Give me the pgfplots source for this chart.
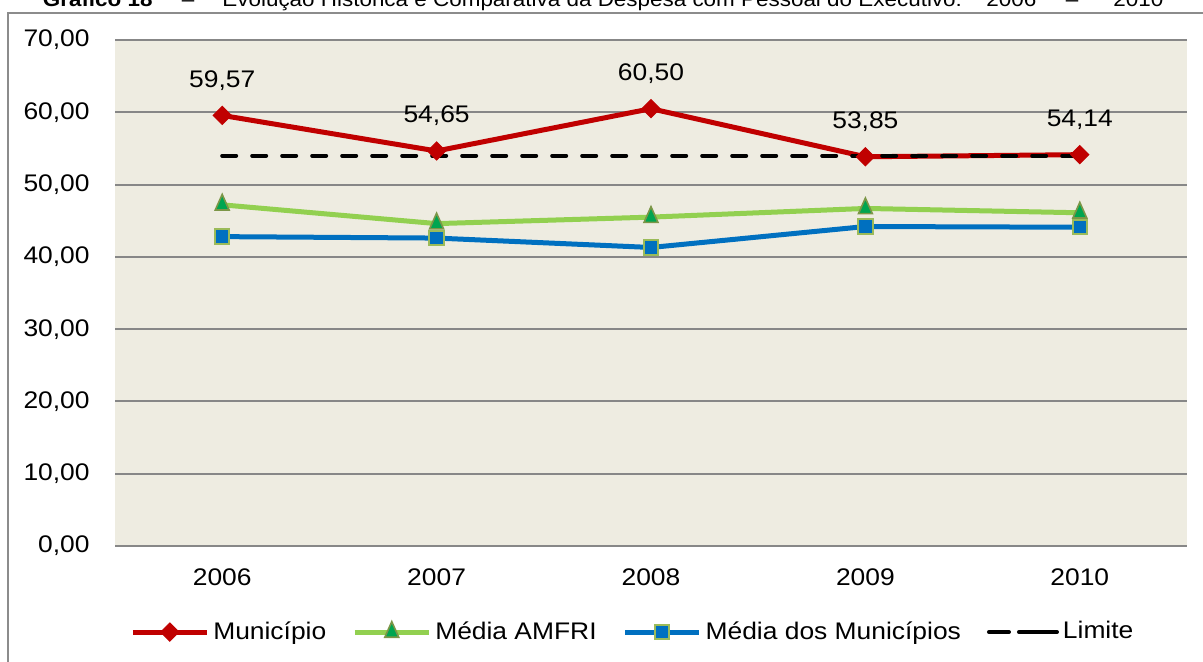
\documentclass[border=0pt]{standalone}
\usepackage{fontspec}
\setmainfont[FakeStretch=1.1]{Liberation Sans}
\usepackage{pgfplots}
\pgfplotsset{compat=1.18}
\definecolor{cred}{HTML}{C00000}
\definecolor{cgreen}{HTML}{92D050}
\definecolor{ctri}{HTML}{00A550}
\definecolor{cedge}{HTML}{9BBB59}
\definecolor{cblue}{HTML}{0070C0}
\definecolor{bgc}{HTML}{EEECE1}
\definecolor{gridgray}{HTML}{878787}
\definecolor{framegray}{HTML}{8C8C8C}
\pgfplotsset{limitlegend/.style={legend image code/.code={\draw[black, line width=2pt, line cap=round, solid] (1pt,0pt) -- (10pt,0pt); \draw[black, line width=2pt, line cap=round, solid] (21pt,0pt) -- (30pt,0pt); \path (0pt,0pt) -- (34pt,0pt);}}}
\begin{document}
\fontsize{12pt}{14pt}\selectfont
\begin{tikzpicture}
\begin{axis}[
  scale only axis, width=536pt, height=253pt,
  at={(0pt,0pt)}, anchor=south west,
  xmin=-0.5, xmax=4.5, ymin=0, ymax=70,
  xtick={0,1,2,3,4}, xticklabels={2006,2007,2008,2009,2010},
  ytick={0,10,20,30,40,50,60,70},
  ymajorgrids, grid style={color=gridgray, line width=1pt},
  axis line style={draw=none},
  major tick length=0pt,
  axis background/.style={fill=bgc},
  tick label style={font=\fontsize{12pt}{14pt}\selectfont},
  yticklabel style={xshift=-8.5pt},
  xticklabel style={yshift=-7pt},
  /pgf/number format/fixed,
  /pgf/number format/fixed zerofill,
  /pgf/number format/precision=2,
  /pgf/number format/use comma,
  /pgf/number format/assume math mode=true,
  legend columns=4,
  legend style={at={(0.484,-0.170)}, anchor=center, draw=none, fill=none,
    font=\fontsize{12pt}{14pt}\selectfont,
    /tikz/every even column/.append style={column sep=11pt}},
  legend image code/.code={\draw[mark repeat=2,mark phase=2,#1] plot coordinates {(0pt,0pt) (18.5pt,0pt) (37pt,0pt)};},
]
\addplot[cred, line width=2.5pt, mark=square*, mark size=3.2pt,
  mark options={solid, rotate=45, line width=0.5pt, fill=cred},
  nodes near coords,
  every node near coord/.append style={anchor=center, yshift=17.5pt, color=black, font=\fontsize{12pt}{14pt}\selectfont}]
  coordinates {(0,59.57) (1,54.65) (2,60.50) (3,53.85) (4,54.14)};
\addlegendentry{Município}
\addplot[cgreen, line width=2.5pt, mark=triangle*, mark size=4pt,
  mark options={solid, yscale=1.3, line width=0.8pt, draw=cedge!80!black, fill=ctri}]
  coordinates {(0,47.2) (1,44.6) (2,45.5) (3,46.7) (4,46.1)};
\addlegendentry{Média AMFRI}
\addplot[cblue, line width=2.5pt, mark=square*, mark size=3.6pt,
  mark options={solid, line width=1pt, draw=cedge, fill=cblue}]
  coordinates {(0,42.8) (1,42.6) (2,41.3) (3,44.2) (4,44.1)};
\addlegendentry{Média dos Municípios}
\addplot[black, line width=2pt, dash pattern=on 7pt off 8pt, line cap=round, mark=none, limitlegend]
  coordinates {(0,54) (1,54) (2,54) (3,54) (4,54)};
\addlegendentry{Limite}
\end{axis}
\draw[framegray, line width=0.8pt] (-53.5pt,-80pt) -- (-53.5pt,266.5pt) -- (600pt,266.5pt);
\begin{scope}[every node/.style={inner sep=0pt, font=\fontsize{10.2pt}{12pt}\selectfont}]
\node[anchor=base east] at (19pt,270pt) {\textbf{Gráfico 18}};
\node[anchor=base] at (36.5pt,270pt) {–};
\node[anchor=base west] at (53.5pt,270pt) {Evolução Histórica e Comparativa da Despesa com Pessoal do Executivo:};
\node[anchor=base west] at (435.5pt,270pt) {2006};
\node[anchor=base] at (478.5pt,270pt) {–};
\node[anchor=base west] at (499pt,270pt) {2010};
\end{scope}
\pgfresetboundingbox
\useasboundingbox (-57.5pt,-57.5pt) rectangle (544pt,273pt);
\end{tikzpicture}
\end{document}
